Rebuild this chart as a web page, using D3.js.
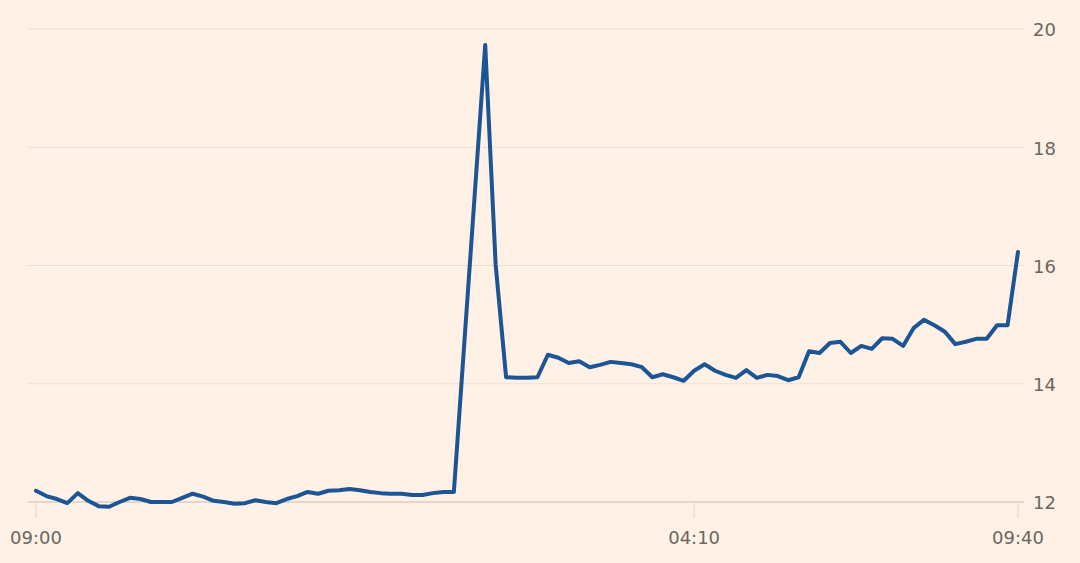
<!DOCTYPE html>
<html><head><meta charset="utf-8">
<script src="https://cdn.jsdelivr.net/npm/d3@7"></script>
<style>
html,body{margin:0;padding:0;background:#fff1e5;}
svg{display:block;}
text{font-family:"DejaVu Sans",sans-serif;}
</style></head><body>
<svg id="chart" width="1080" height="563"></svg>
<script>
const values = [12.19,12.10,12.05,11.98,12.15,12.02,11.93,11.92,12.00,12.07,
12.05,12.00,12.00,12.00,12.07,12.14,12.09,12.02,12.00,11.97,
11.98,12.03,12.00,11.98,12.05,12.10,12.17,12.14,12.19,12.20,
12.22,12.20,12.17,12.15,12.14,12.14,12.12,12.12,12.15,12.17,
12.17,14.69,17.21,19.73,16.01,14.11,14.10,14.10,14.11,14.49,
14.44,14.35,14.38,14.28,14.32,14.37,14.35,14.33,14.28,14.11,
14.16,14.11,14.05,14.22,14.33,14.22,14.15,14.10,14.23,14.10,
14.15,14.13,14.06,14.11,14.55,14.52,14.69,14.71,14.52,14.64,
14.59,14.77,14.76,14.64,14.94,15.08,14.99,14.88,14.67,14.71,
14.76,14.76,14.99,14.99,16.23];
const xTickIdx = [0, 63, 94];
const xTickLabels = ["09:00", "04:10", "09:40"];
const yTicks = [12, 14, 16, 18, 20];

const svg = d3.select("#chart");
const x = d3.scaleLinear().domain([0, values.length - 1]).range([36, 1018]);
const y = d3.scaleLinear().domain([12, 20]).range([502, 29]);

// gridlines
svg.append("g").selectAll("line").data(yTicks).join("line")
  .attr("x1", 28).attr("x2", 1024)
  .attr("y1", d => y(d)).attr("y2", d => y(d))
  .attr("stroke", d => d === 12 ? "#e3d7cc" : "#ebe0d6")
  .attr("stroke-width", d => d === 12 ? 2 : 1);

// y labels
svg.append("g").selectAll("text").data(yTicks).join("text")
  .attr("x", 1033).attr("y", d => y(d) + 1).attr("dy", "0.36em")
  .attr("font-size", 18).attr("fill", "#6b6661")
  .text(d => d);

// x ticks
svg.append("g").selectAll("line").data(xTickIdx).join("line")
  .attr("x1", d => x(d)).attr("x2", d => x(d))
  .attr("y1", 502).attr("y2", 518)
  .attr("stroke", "#e0d5cb").attr("stroke-width", 1);

svg.append("g").selectAll("text").data(xTickIdx).join("text")
  .attr("x", d => x(d)).attr("y", 538).attr("dy", "0.36em")
  .attr("text-anchor", "middle")
  .attr("font-size", 18).attr("fill", "#6b6661")
  .text((d, i) => xTickLabels[i]);

// line
const line = d3.line().x((d, i) => x(i)).y(d => y(d));
svg.append("path").datum(values)
  .attr("d", line).attr("fill", "none")
  .attr("stroke", "#1b5596").attr("stroke-width", 4)
  .attr("stroke-linejoin", "round").attr("stroke-linecap", "round");
</script>
</body></html>
